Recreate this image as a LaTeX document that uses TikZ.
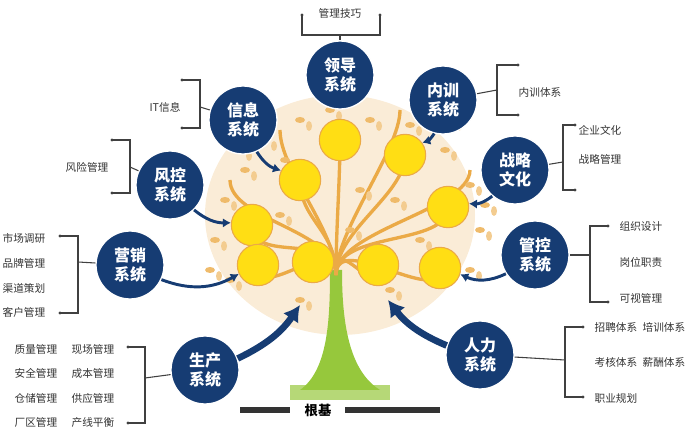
\documentclass[tikz,border=0pt]{standalone}
\usepackage{fontspec}
\setmainfont{Noto Sans CJK SC}
\usetikzlibrary{arrows.meta}
\definecolor{navy}{RGB}{22,60,115}
\definecolor{fruit}{RGB}{255,222,20}
\definecolor{leafc}{RGB}{235,170,70}
\definecolor{pale}{RGB}{250,236,215}
\definecolor{trunkc}{RGB}{150,200,60}
\tikzset{
  sys/.style={circle,fill=navy,draw=white,line width=1pt,text=white,font=\bfseries\large,align=center,inner sep=0pt,minimum size=51pt},
  fruitn/.style={circle,fill=fruit,draw=leafc,line width=0.8pt,minimum size=31pt,inner sep=0pt},
  item/.style={font=\footnotesize,text=black!80,inner sep=1pt},
  brk/.style={draw=black!75,line width=0.8pt},
  dotn/.style={circle,fill=black!75,inner sep=0pt,minimum size=2.5pt},
  pointer/.style={draw=navy,line width=2.2pt,-{Latex[length=6pt,width=7pt]}},
  bigpointer/.style={draw=navy,line width=5pt,-{Latex[length=12pt,width=14pt]}}
}
\begin{document}
\begin{tikzpicture}[x=0.75pt,y=-0.75pt]
  \useasboundingbox (0,0) rectangle (700,434);

  % tree
  \fill[pale] (340,215) ellipse (135 and 120);
  \fill[trunkc!70] (290,400) rectangle (390,385);
  \fill[trunkc] (300,390) .. controls (328,370) and (330,320) .. (330,270)
    -- (342,270) .. controls (342,320) and (348,370) .. (380,390) -- cycle;
  \foreach \x/\y in {340/140, 300/180, 405/155, 252/225, 448/207, 258/265,
                     313/262, 378/265, 440/268, 280/130, 400/110, 230/180, 470/170} {
    \draw[leafc,line width=2.5pt] (336,275) .. controls (336,230) and (\x,\y+40) .. (\x,\y);
  }
  \foreach \x/\y in {225/200, 245/170, 265/140, 300/120, 330/110, 370/120, 410/125,
                     445/150, 470/185, 480/230, 215/240, 230/280, 470/270, 285/160,
                     360/190, 395/200, 420/240, 280/215, 350/230, 240/150, 450/120,
                     300/300, 390/290, 210/270, 485/205} {
    \fill[leafc!80] (\x,\y) ellipse (5 and 3);
    \fill[leafc!60] (\x+9,\y+6) ellipse (3 and 5);
  }

  % fruits
  \node[fruitn] (f1) at (340,140) {};
  \node[fruitn] (f2) at (300,180) {};
  \node[fruitn] (f3) at (405,155) {};
  \node[fruitn] (f4) at (252,225) {};
  \node[fruitn] (f5) at (448,207) {};
  \node[fruitn] (f6) at (258,265) {};
  \node[fruitn] (f7) at (313,262) {};
  \node[fruitn] (f8) at (378,265) {};
  \node[fruitn] (f9) at (440,268) {};

  % base
  \fill[black!80] (240,407) rectangle (290,413);
  \fill[black!80] (345,407) rectangle (440,413);
  \node[font=\bfseries] (base) at (318,410) {根基};

  % systems
  \node[sys] (lead) at (340,75) {领导\\系统};
  \node[sys] (info) at (243,120) {信息\\系统};
  \node[sys] (train) at (443,100) {内训\\系统};
  \node[sys] (risk) at (170,185) {风控\\系统};
  \node[sys] (strat) at (515,170) {战略\\文化};
  \node[sys] (mkt) at (130,265) {营销\\系统};
  \node[sys] (ctrl) at (535,255) {管控\\系统};
  \node[sys] (prod) at (205,370) {生产\\系统};
  \node[sys] (hr) at (480,355) {人力\\系统};

  % pointers
  \draw[pointer] (info) to[bend right=20] (f2);
  \draw[pointer] (train) to[bend left=20] (f3);
  \draw[pointer] (risk) to[bend right=20] (f4);
  \draw[pointer] (strat) to[bend left=20] (f5);
  \draw[pointer] (mkt) to[bend right=25] (f6);
  \draw[pointer] (ctrl) to[bend left=25] (f9);
  \coordinate (tl) at (300,305);
  \coordinate (tr) at (388,300);
  \draw[bigpointer] (prod) to[bend right=15] (tl);
  \draw[bigpointer] (hr) to[bend left=15] (tr);

  % brackets
  \node[item] (t1) at (340,13) {管理技巧};
  \draw[brk] (302,15) -- (302,35) -- (380,35) -- (380,15);
  \draw[brk] (340,35) -- (lead);
  \node[dotn] at (302,15) {}; \node[dotn] at (380,15) {};

  \node[item] (t2) at (165,107) {IT信息};
  \draw[brk] (182,80) -- (200,80) -- (200,128) -- (182,128);
  \draw[brk] (200,107) -- (info);
  \node[dotn] at (182,80) {}; \node[dotn] at (182,128) {};

  \node[item] (t3) at (87,167) {风险管理};
  \draw[brk] (112,140) -- (130,140) -- (130,193) -- (112,193);
  \draw[brk] (130,167) -- (risk);
  \node[dotn] at (112,140) {}; \node[dotn] at (112,193) {};

  \node[item] (t4) at (540,92) {内训体系};
  \draw[brk] (518,65) -- (497,65) -- (497,115) -- (518,115);
  \draw[brk] (497,90) -- (train);
  \node[dotn] at (518,65) {}; \node[dotn] at (518,115) {};

  \node[item] (t5) at (600,130) {企业文化};
  \node[item] (t6) at (600,159) {战略管理};
  \draw[brk] (575,125) -- (563,125) -- (563,190) -- (575,190);
  \draw[brk] (563,162) -- (strat);
  \node[dotn] at (575,125) {}; \node[dotn] at (575,190) {};

  \foreach \t/\y in {市场调研/238, 品牌管理/263, 渠道策划/288, 客户管理/312}
    \node[item,anchor=west] at (1,\y) {\t};
  \draw[brk] (60,236) -- (78,236) -- (78,313) -- (60,313);
  \draw[brk] (78,262) -- (mkt);
  \node[dotn] at (60,236) {}; \node[dotn] at (60,313) {};

  \foreach \t/\y in {组织设计/226, 岗位职责/262, 可视管理/298}
    \node[item,anchor=west] at (618,\y) {\t};
  \draw[brk] (608,226) -- (590,226) -- (590,302) -- (608,302);
  \draw[brk] (590,255) -- (ctrl);
  \node[dotn] at (608,226) {}; \node[dotn] at (608,302) {};

  \foreach \a/\b/\y in {质量管理/现场管理/349, 安全管理/成本管理/373,
                        仓储管理/供应管理/398, 厂区管理/产线平衡/422} {
    \node[item,anchor=west] at (13,\y) {\a};
    \node[item,anchor=west] at (70,\y) {\b};
  }
  \draw[brk] (128,347) -- (145,347) -- (145,423) -- (128,423);
  \draw[brk] (145,378) -- (prod);
  \node[dotn] at (128,347) {}; \node[dotn] at (128,423) {};

  \node[item,anchor=west] at (593,327) {招聘体系\enspace 培训体系};
  \node[item,anchor=west] at (593,362) {考核体系\enspace 薪酬体系};
  \node[item,anchor=west] at (593,398) {职业规划};
  \draw[brk] (583,327) -- (565,327) -- (565,397) -- (583,397);
  \draw[brk] (565,360) -- (hr);
  \node[dotn] at (583,327) {}; \node[dotn] at (583,397) {};
\end{tikzpicture}
\end{document}
